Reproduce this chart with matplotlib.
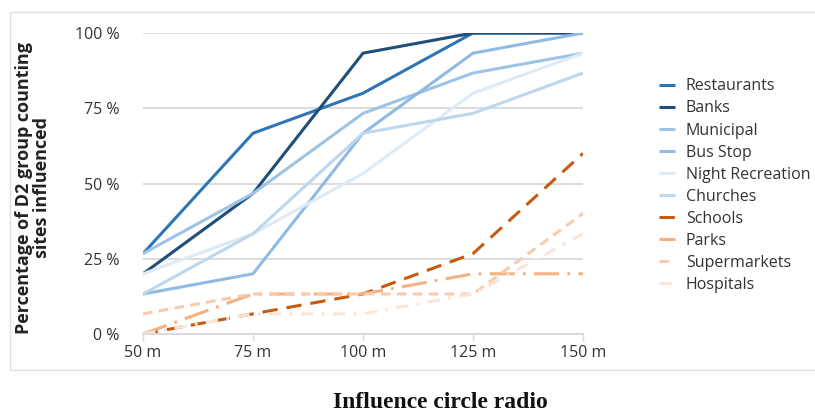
import matplotlib.pyplot as plt
import matplotlib.patches as patches
import numpy as np

plt.rcParams['font.family'] = ['Open Sans', 'DejaVu Sans']
plt.rcParams['lines.scale_dashes'] = False

# data (percent of D2 group counting sites influenced)
radios = ['50 m', '75 m', '100 m', '125 m', '150 m']
restaurants = [26.7, 66.7, 80.0, 100.0, 100.0]
banks = [20.0, 46.7, 93.3, 100.0, 100.0]
municipal = [26.7, 46.7, 73.3, 86.7, 93.3]
bus_stop = [13.3, 20.0, 66.7, 93.3, 100.0]
night_recreation = [20.0, 33.3, 53.3, 80.0, 93.3]
churches = [13.3, 33.3, 66.7, 73.3, 86.7]
schools = [0.0, 6.7, 13.3, 26.7, 60.0]
parks = [0.0, 13.3, 13.3, 20.0, 20.0]
supermarkets = [6.7, 13.3, 13.3, 13.3, 40.0]
hospitals = [0.0, 6.7, 6.7, 13.3, 33.3]

series = [
    ('Restaurants', restaurants, '#2e75b6', None),
    ('Banks', banks, '#1f4e79', None),
    ('Municipal', municipal, '#9dc3e6', None),
    ('Bus Stop', bus_stop, '#8fbbe3', None),
    ('Night Recreation', night_recreation, '#deebf7', None),
    ('Churches', churches, '#bdd7ee', None),
    ('Schools', schools, '#c55a11', (11, 6.5)),
    ('Parks', parks, '#f4b183', (18, 6, 2, 6)),
    ('Supermarkets', supermarkets, '#f8cbad', (7, 4.5)),
    ('Hospitals', hospitals, '#fbe5d6', (9, 6, 2, 6)),
]

fig = plt.figure(figsize=(8.15, 4.15), dpi=100)
ax = fig.add_axes([143/815, 1 - 334/415, 440/815, 301/415])

x = np.arange(len(radios))
for name, vals, col, dash in series:
    if dash is None:
        ax.plot(x, vals, color=col, lw=2.2, label=name, solid_capstyle='butt')
    else:
        ax.plot(x, vals, color=col, lw=2.2, label=name, dashes=dash, dash_capstyle='butt')

ax.set_xlim(0, 4)
ax.set_ylim(0, 100)
ax.set_yticks([0, 25, 50, 75, 100])
ax.set_yticklabels(['0 %', '25 %', '50 %', '75 %', '100 %'], fontsize=11.5, color='#333333')
ax.set_xticks(x)
ax.set_xticklabels(radios, fontsize=11.5, color='#333333')
ax.tick_params(axis='y', length=0, pad=17)
ax.tick_params(axis='x', length=5, color='#d9d9d9', width=1, pad=3)
ax.grid(axis='y', color='#d9d9d9', lw=1.3)
ax.set_axisbelow(True)
for s in ['top', 'right', 'left']:
    ax.spines[s].set_visible(False)
ax.spines['bottom'].set_color('#d9d9d9')
ax.spines['bottom'].set_linewidth(1.3)

fig.text(33/815, 1 - 188/415, 'Percentage of D2 group counting\nsites influenced',
         rotation=90, ha='center', va='center', fontsize=13, fontweight='bold',
         color='#222222', linespacing=1.0)
fig.text(440/815, 1 - 402/415, 'Influence circle radio', ha='center', va='center',
         fontsize=17, fontweight='bold', family='Liberation Serif', color='#111111')

leg = fig.legend(loc='upper left', bbox_to_anchor=(645/815, 1 - 64/415), frameon=False,
                 fontsize=11.5, handlelength=0.95, handletextpad=0.7, labelspacing=0.38)
for t in leg.get_texts():
    t.set_color('#333333')

fig.patches.append(patches.Rectangle((10/815, 1 - 370/415), 1.0, 358/415,
                                     transform=fig.transFigure, fill=False,
                                     edgecolor='#e0e0e0', lw=1))

fig.savefig('out.png', dpi=100)
